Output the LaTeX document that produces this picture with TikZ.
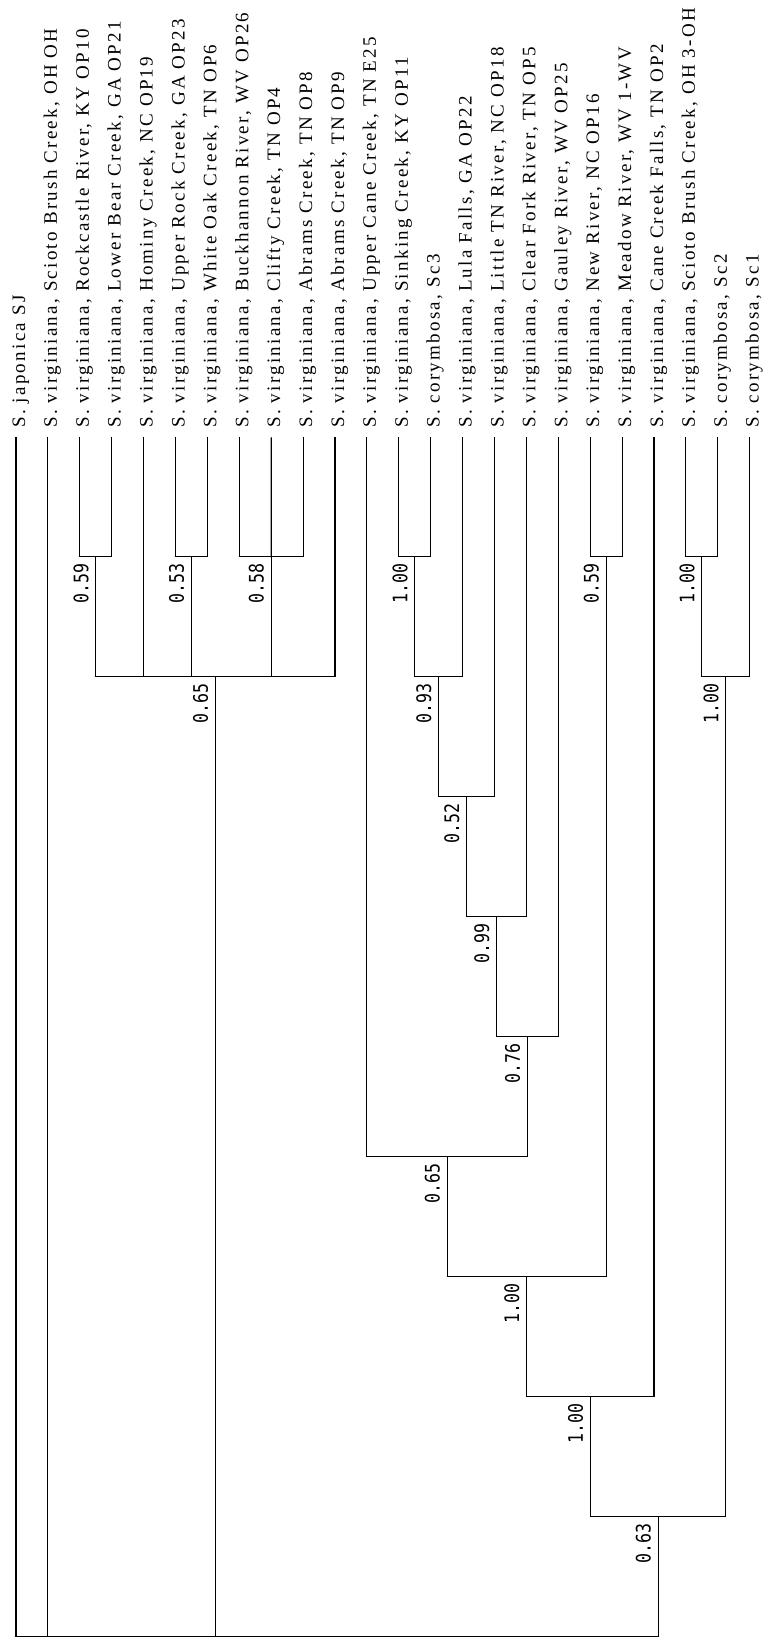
\documentclass[tikz,border=0pt]{standalone}
\usepackage{fontspec}
\setmainfont{Liberation Serif}
\newfontfamily\taxonfont[LetterSpace=12]{Liberation Serif}
\newfontfamily\bootfont{DejaVu Sans Mono}
\usetikzlibrary{positioning}

\begin{document}
\begin{tikzpicture}[x=1pt, y=-1pt, taxon/.style={font=\taxonfont\fontsize{19}{19}\selectfont, rotate=90, anchor=base west, inner sep=0pt}, boot/.style={font=\bootfont\fontsize{20}{20}\selectfont, xshift=-7pt, yshift=-7pt, rotate=90, xscale=0.83, anchor=south east, inner sep=0pt}, br/.style={line width=1.1pt, line cap=rect}]
\fill[white] (0,0) rectangle (767,1637);
\useasboundingbox (0,0) rectangle (767,1637);
\foreach \lab [count=\i from 0] in {{S. japonica SJ}, {S. virginiana, Scioto Brush Creek, OH OH}, {S. virginiana, Rockcastle River, KY OP10}, {S. virginiana, Lower Bear Creek, GA OP21}, {S. virginiana, Hominy Creek, NC OP19}, {S. virginiana, Upper Rock Creek, GA OP23}, {S. virginiana, White Oak Creek, TN OP6}, {S. virginiana, Buckhannon River, WV OP26}, {S. virginiana, Clifty Creek, TN OP4}, {S. virginiana, Abrams Creek, TN OP8}, {S. virginiana, Abrams Creek, TN OP9}, {S. virginiana, Upper Cane Creek, TN E25}, {S. virginiana, Sinking Creek, KY OP11}, {S. corymbosa, Sc3}, {S. virginiana, Lula Falls, GA OP22}, {S. virginiana, Little TN River, NC OP18}, {S. virginiana, Clear Fork River, TN OP5}, {S. virginiana, Gauley River, WV OP25}, {S. virginiana, New River, NC OP16}, {S. virginiana, Meadow River, WV 1-WV}, {S. virginiana, Cane Creek Falls, TN OP2}, {S. virginiana, Scioto Brush Creek, OH 3-OH}, {S. corymbosa, Sc2}, {S. corymbosa, Sc1}} {
  \coordinate (t\i) at (16+31.9*\i, 438);
  \node[taxon] (n\i) at (25+31.9*\i, 428) {\lab};
}
\coordinate (c23) at (95.75,556.7);
\coordinate (c56) at (191.45,556.7);
\coordinate (c789) at (271.2,556.7);
\coordinate (c1213) at (414.75,556.7);
\coordinate (c1819) at (606.15,556.7);
\coordinate (c2122) at (701.85,556.7);
\coordinate (cA) at (215.4,676.7);
\coordinate (c14) at (438.7,676.7);
\coordinate (cSc) at (725.8,676.7);
\coordinate (c15) at (466.6,796.7);
\coordinate (c16) at (496.5,916.7);
\coordinate (c17) at (527.4,1036.7);
\coordinate (c11) at (447.15,1156.7);
\coordinate (cNR) at (526.65,1276.7);
\coordinate (c20) at (590.3,1396.7);
\coordinate (c63) at (658.05,1516.7);
\coordinate (root) at (337,1636.5);
\draw[br] (t2) |- (c23) -| (t3);
\draw[br] (t5) |- (c56) -| (t6);
\draw[br] (t7) |- (c789) -| (t9);
\draw[br] (t8) -- (c789);
\draw[br] (t12) |- (c1213) -| (t13);
\draw[br] (t18) |- (c1819) -| (t19);
\draw[br] (t21) |- (c2122) -| (t22);
\draw[br] (c23) |- (cA) -| (t10);
\draw[br] (t4) -- (t4 |- cA);
\draw[br] (c56) -- (c56 |- cA);
\draw[br] (c789) -- (c789 |- cA);
\draw[br] (c1213) |- (c14) -| (t14);
\draw[br] (c2122) |- (cSc) -| (t23);
\draw[br] (c14) |- (c15) -| (t15);
\draw[br] (c15) |- (c16) -| (t16);
\draw[br] (c16) |- (c17) -| (t17);
\draw[br] (t11) |- (c11) -| (c17);
\draw[br] (c11) |- (cNR) -| (c1819);
\draw[br] (cNR) |- (c20) -| (t20);
\draw[br] (c20) |- (c63) -| (cSc);
\draw[br] (t0) |- (root) -| (c63);
\draw[br] (t1) -- (t1 |- root);
\draw[br] (cA) -- (cA |- root);
\node[boot] (b23) at (c23) {0.59};
\node[boot] (b56) at (c56) {0.53};
\node[boot] (b789) at (c789) {0.58};
\node[boot] (bA) at (cA) {0.65};
\node[boot] (b1213) at (c1213) {1.00};
\node[boot] (b14) at (c14) {0.93};
\node[boot] (b15) at (c15) {0.52};
\node[boot] (b16) at (c16) {0.99};
\node[boot] (b17) at (c17) {0.76};
\node[boot] (b11) at (c11) {0.65};
\node[boot] (b1819) at (c1819) {0.59};
\node[boot] (bNR) at (cNR) {1.00};
\node[boot] (b20) at (c20) {1.00};
\node[boot] (b2122) at (c2122) {1.00};
\node[boot] (bSc) at (cSc) {1.00};
\node[boot] (b63) at (c63) {0.63};
\end{tikzpicture}
\end{document}
